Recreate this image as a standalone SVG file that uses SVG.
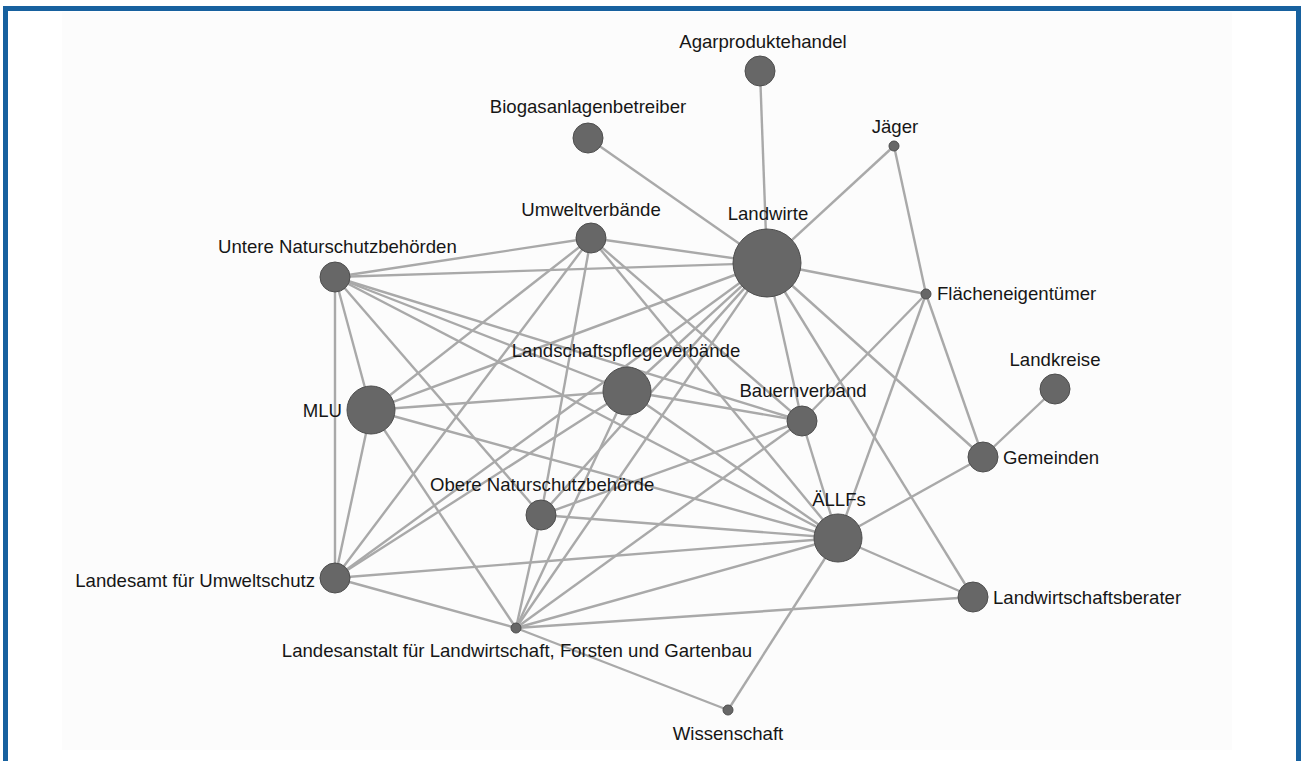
<svg xmlns="http://www.w3.org/2000/svg" width="1301" height="761" viewBox="0 0 1301 761">
<style>
.e{stroke:#a9a9a9;stroke-width:2.4;fill:none}
.n{fill:#676767;stroke:#4e4e4e;stroke-width:1}
.t{font-family:"Liberation Sans",Arial,sans-serif;font-size:18.6px;fill:#161616}
.m{text-anchor:middle}
.r{text-anchor:end}
</style>
<rect width="1301" height="761" fill="#ffffff"/>
<rect x="62" y="12" width="1170" height="738" fill="#fcfcfc"/>
<path d="M5.5,761 V8.5 H1298.5 V761" fill="none" stroke="#17619f" stroke-width="5"/>
<g id="connectors">
<line class="e" x1="760" y1="71" x2="767" y2="263"/>
<line class="e" x1="588" y1="138" x2="767" y2="263"/>
<line class="e" x1="894" y1="146" x2="767" y2="263"/>
<line class="e" x1="894" y1="146" x2="926" y2="294"/>
<line class="e" x1="767" y1="263" x2="926" y2="294"/>
<line class="e" x1="926" y1="294" x2="983" y2="457"/>
<line class="e" x1="926" y1="294" x2="802" y2="421"/>
<line class="e" x1="926" y1="294" x2="838" y2="538"/>
<line class="e" x1="767" y1="263" x2="983" y2="457"/>
<line class="e" x1="983" y1="457" x2="1055" y2="389"/>
<line class="e" x1="983" y1="457" x2="838" y2="538"/>
<line class="e" x1="767" y1="263" x2="973" y2="597"/>
<line class="e" x1="838" y1="538" x2="973" y2="597"/>
<line class="e" x1="516" y1="628" x2="973" y2="597"/>
<line class="e" x1="838" y1="538" x2="728" y2="710"/>
<line class="e" x1="516" y1="628" x2="728" y2="710"/>
<line class="e" x1="767" y1="263" x2="802" y2="421"/>
<line class="e" x1="802" y1="421" x2="838" y2="538"/>
<line class="e" x1="335" y1="277" x2="591" y2="238"/>
<line class="e" x1="335" y1="277" x2="767" y2="263"/>
<line class="e" x1="335" y1="277" x2="371" y2="410"/>
<line class="e" x1="335" y1="277" x2="335" y2="578"/>
<line class="e" x1="335" y1="277" x2="627" y2="391"/>
<line class="e" x1="335" y1="277" x2="802" y2="421"/>
<line class="e" x1="335" y1="277" x2="541" y2="515"/>
<line class="e" x1="335" y1="277" x2="838" y2="538"/>
<line class="e" x1="591" y1="238" x2="767" y2="263"/>
<line class="e" x1="591" y1="238" x2="371" y2="410"/>
<line class="e" x1="591" y1="238" x2="335" y2="578"/>
<line class="e" x1="591" y1="238" x2="541" y2="515"/>
<line class="e" x1="591" y1="238" x2="802" y2="421"/>
<line class="e" x1="591" y1="238" x2="838" y2="538"/>
<line class="e" x1="371" y1="410" x2="767" y2="263"/>
<line class="e" x1="371" y1="410" x2="627" y2="391"/>
<line class="e" x1="371" y1="410" x2="838" y2="538"/>
<line class="e" x1="371" y1="410" x2="335" y2="578"/>
<line class="e" x1="371" y1="410" x2="516" y2="628"/>
<line class="e" x1="627" y1="391" x2="767" y2="263"/>
<line class="e" x1="627" y1="391" x2="802" y2="421"/>
<line class="e" x1="627" y1="391" x2="838" y2="538"/>
<line class="e" x1="627" y1="391" x2="335" y2="578"/>
<line class="e" x1="627" y1="391" x2="516" y2="628"/>
<line class="e" x1="767" y1="263" x2="335" y2="578"/>
<line class="e" x1="767" y1="263" x2="541" y2="515"/>
<line class="e" x1="767" y1="263" x2="516" y2="628"/>
<line class="e" x1="541" y1="515" x2="516" y2="628"/>
<line class="e" x1="541" y1="515" x2="838" y2="538"/>
<line class="e" x1="541" y1="515" x2="802" y2="421"/>
<line class="e" x1="335" y1="578" x2="838" y2="538"/>
<line class="e" x1="335" y1="578" x2="516" y2="628"/>
<line class="e" x1="516" y1="628" x2="802" y2="421"/>
<line class="e" x1="516" y1="628" x2="838" y2="538"/>
</g>
<g id="node-agarproduktehandel"><circle class="n" cx="760" cy="71" r="15"/><text class="t m" x="763" y="48">Agarproduktehandel</text></g>
<g id="node-biogasanlagenbetreiber"><circle class="n" cx="588" cy="138" r="15"/><text class="t m" x="588" y="113">Biogasanlagenbetreiber</text></g>
<g id="node-jaeger"><circle class="n" cx="894" cy="146" r="5"/><text class="t m" x="895" y="133">Jäger</text></g>
<g id="node-umweltverbaende"><circle class="n" cx="591" cy="238" r="15"/><text class="t m" x="591" y="216">Umweltverbände</text></g>
<g id="node-landwirte"><circle class="n" cx="767" cy="263" r="34"/><text class="t m" x="768" y="220">Landwirte</text></g>
<g id="node-untere-naturschutzbehoerden"><circle class="n" cx="335" cy="277" r="15"/><text class="t" x="218" y="253">Untere Naturschutzbehörden</text></g>
<g id="node-flaecheneigentuemer"><circle class="n" cx="926" cy="294" r="5"/><text class="t" x="937" y="300">Flächeneigentümer</text></g>
<g id="node-mlu"><circle class="n" cx="371" cy="410" r="24"/><text class="t r" x="342" y="417">MLU</text></g>
<g id="node-landschaftspflegeverbaende"><circle class="n" cx="627" cy="391" r="24"/><text class="t m" x="626" y="357">Landschaftspflegeverbände</text></g>
<g id="node-bauernverband"><circle class="n" cx="802" cy="421" r="15"/><text class="t m" x="803" y="397">Bauernverband</text></g>
<g id="node-landkreise"><circle class="n" cx="1055" cy="389" r="15"/><text class="t m" x="1055" y="366">Landkreise</text></g>
<g id="node-gemeinden"><circle class="n" cx="983" cy="457" r="15"/><text class="t" x="1003" y="464">Gemeinden</text></g>
<g id="node-obere-naturschutzbehoerde"><circle class="n" cx="541" cy="515" r="15"/><text class="t" x="430" y="491">Obere Naturschutzbehörde</text></g>
<g id="node-aellfs"><circle class="n" cx="838" cy="538" r="24"/><text class="t m" x="839" y="506">ÄLLFs</text></g>
<g id="node-landesamt-umweltschutz"><circle class="n" cx="335" cy="578" r="15"/><text class="t r" x="315" y="587">Landesamt für Umweltschutz</text></g>
<g id="node-landwirtschaftsberater"><circle class="n" cx="973" cy="597" r="15"/><text class="t" x="993" y="604">Landwirtschaftsberater</text></g>
<g id="node-landesanstalt"><circle class="n" cx="516" cy="628" r="5"/><text class="t m" x="517" y="657">Landesanstalt für Landwirtschaft, Forsten und Gartenbau</text></g>
<g id="node-wissenschaft"><circle class="n" cx="728" cy="710" r="5"/><text class="t m" x="728" y="740">Wissenschaft</text></g>
</svg>
